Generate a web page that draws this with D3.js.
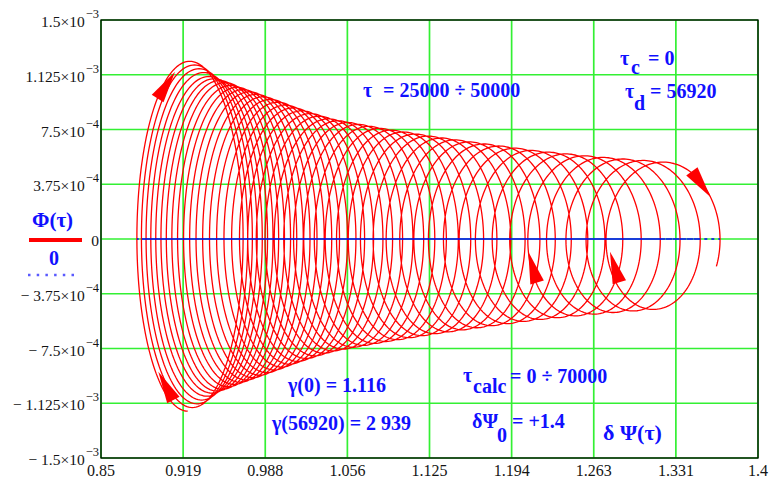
<!DOCTYPE html>
<html>
<head>
<meta charset="utf-8">
<script src="https://cdn.jsdelivr.net/npm/d3@7"></script>
<style>
  body { margin: 0; background: #fff; }
  svg { display: block; }
  text { font-family: "Liberation Serif", "Times New Roman", serif; }
</style>
</head>
<body>
<svg id="chart" width="769" height="483"></svg>
<script>
// ---- axis ticks ----
const xTicks = [0.85, 0.91875, 0.9875, 1.05625, 1.125, 1.19375, 1.2625, 1.33125, 1.4];
const xTickLabels = ["0.85", "0.919", "0.988", "1.056", "1.125", "1.194", "1.263", "1.331", "1.4"];
const yTicks = [1.5e-3, 1.125e-3, 7.5e-4, 3.75e-4, 0, -3.75e-4, -7.5e-4, -1.125e-3, -1.5e-3];
const yTickMantissa = ["1.5×10", "1.125×10", "7.5×10", "3.75×10", "0", "− 3.75×10", "− 7.5×10", "− 1.125×10", "− 1.5×10"];
const yTickExponent = ["−3", "−3", "−4", "−4", "", "−4", "−4", "−3", "−3"];

// ---- trajectory Φ(τ) vs δΨ(τ): one entry per revolution ----
// δΨ at the top of each revolution
const loopCenter = [
  0.9245, 0.9283, 0.9322, 0.9362, 0.9404, 0.9448, 0.9493, 0.9540, 0.9588, 0.9639,
  0.9690, 0.9744, 0.9800, 0.9858, 0.9918, 0.9980, 1.0045, 1.0111, 1.0181, 1.0253,
  1.0327, 1.0405, 1.0485, 1.0568, 1.0654, 1.0743, 1.0835, 1.0931, 1.1030, 1.1133,
  1.1240, 1.1350, 1.1465, 1.1584, 1.1707, 1.1834, 1.1967, 1.2104, 1.2246, 1.2394,
  1.2547, 1.2705, 1.2869, 1.3039, 1.3205
];
// Φ amplitude of each revolution
const loopAmplitude = [
  1.192e-3, 1.167e-3, 1.141e-3, 1.115e-3, 1.088e-3, 1.073e-3, 1.060e-3, 1.047e-3, 1.027e-3, 1.014e-3,
  0.998e-3, 0.983e-3, 0.966e-3, 0.949e-3, 0.931e-3, 0.912e-3, 0.892e-3, 0.873e-3, 0.853e-3, 0.834e-3,
  0.816e-3, 0.798e-3, 0.785e-3, 0.773e-3, 0.760e-3, 0.747e-3, 0.733e-3, 0.721e-3, 0.708e-3, 0.694e-3,
  0.680e-3, 0.667e-3, 0.654e-3, 0.640e-3, 0.626e-3, 0.612e-3, 0.597e-3, 0.582e-3, 0.570e-3, 0.558e-3,
  0.545e-3, 0.534e-3, 0.523e-3, 0.513e-3, 0.502e-3
];
const loopHalfWidth = 0.0435;   // δΨ half-width of a revolution
const phiOffset = 2.5e-5;       // mean level of Φ
const turnStart = -0.5;         // trajectory begins at the bottom of the first revolution
const turnEnd = 44.32;          // and stops just past the right side of the last one

// direction markers along the trajectory: tip [δΨ, Φ] and heading (deg, screen)
const flowArrows = [
  { tip: [0.9120, 1.146e-3], heading: -57 },
  { tip: [0.8980, -0.909e-3], heading: -118 },
  { tip: [1.2077, -0.087e-3], heading: -106 },
  { tip: [1.2761, -0.087e-3], heading: -107 },
  { tip: [1.3604, 0.286e-3], heading: 54 }
];

// ---- layout ----
const plot = { left: 101, right: 758, top: 20, bottom: 458 };
const svg = d3.select("#chart");

const x = d3.scaleLinear().domain([0.85, 1.4]).range([plot.left, plot.right]);
const y = d3.scaleLinear().domain([-1.5e-3, 1.5e-3]).range([plot.bottom, plot.top]);

const gridColor = "#33f033";
const textBlue = "#1010ff";

// grid
const grid = svg.append("g");
grid.selectAll("line.vx").data(xTicks).join("line")
  .attr("x1", d => x(d)).attr("x2", d => x(d))
  .attr("y1", plot.top).attr("y2", plot.bottom)
  .attr("stroke", gridColor).attr("stroke-width", 1.7);
grid.selectAll("line.hy").data(yTicks).join("line")
  .attr("y1", d => y(d)).attr("y2", d => y(d))
  .attr("x1", plot.left).attr("x2", plot.right)
  .attr("stroke", gridColor).attr("stroke-width", 1.7);

// trajectory samples
const centerAt = d3.scaleLinear().domain(d3.range(loopCenter.length)).range(loopCenter);
const ampAt = d3.scaleLinear().domain(d3.range(loopAmplitude.length)).range(loopAmplitude);
const perTurn = 180;
const nSamples = Math.round((turnEnd - turnStart) * perTurn);
const pts = d3.range(nSamples + 1).map(i => {
  const u = turnStart + (turnEnd - turnStart) * i / nSamples;
  const a = 2 * Math.PI * u;
  return [centerAt(u) + loopHalfWidth * Math.sin(a), phiOffset + ampAt(u) * Math.cos(a)];
});

const line = d3.line().x(d => x(d[0])).y(d => y(d[1]));

svg.append("path")
  .attr("d", line(pts))
  .attr("fill", "none")
  .attr("stroke", "#ff0000")
  .attr("stroke-width", 1.3)
  .attr("stroke-linejoin", "round");

// zero trace, dotted, following δΨ(τ)
svg.append("path")
  .attr("d", line(pts.map(p => [p[0], 0])))
  .attr("fill", "none")
  .attr("stroke", "#0000ff")
  .attr("stroke-width", 1.4)
  .attr("stroke-dasharray", "3,4");

// direction markers
const arrowLen = 32, arrowHalf = 7;
svg.append("g").selectAll("path").data(flowArrows).join("path")
  .attr("transform", d => `translate(${x(d.tip[0])},${y(d.tip[1])}) rotate(${d.heading})`)
  .attr("d", `M0,0 L${-arrowLen},${-arrowHalf} L${-arrowLen},${arrowHalf} Z`)
  .attr("fill", "#ff0000");

// frame
svg.append("rect")
  .attr("x", plot.left).attr("y", plot.top)
  .attr("width", plot.right - plot.left).attr("height", plot.bottom - plot.top)
  .attr("fill", "none").attr("stroke", "#000").attr("stroke-width", 1.3);

// x tick labels
svg.append("g").selectAll("text").data(xTicks).join("text")
  .attr("x", d => x(d)).attr("y", 476)
  .attr("text-anchor", "middle")
  .attr("font-size", 16).attr("fill", "#141414")
  .text((d, i) => xTickLabels[i]);

// y tick labels with powers of ten
const yl = svg.append("g").selectAll("text").data(yTicks).join("text")
  .attr("x", 99).attr("y", d => y(d) + 7)
  .attr("text-anchor", "end")
  .attr("font-size", 15.5).attr("fill", "#141414");
yl.append("tspan").text((d, i) => yTickMantissa[i]);
yl.append("tspan")
  .attr("font-size", 12.5).attr("dx", 1).attr("dy", -9)
  .text((d, i) => yTickExponent[i]);

// legend
svg.append("text").attr("x", 32).attr("y", 227)
  .attr("font-size", 21).attr("font-weight", "bold").attr("fill", textBlue).text("Φ(τ)");
svg.append("line").attr("x1", 29).attr("x2", 82).attr("y1", 240).attr("y2", 240)
  .attr("stroke", "#ff0000").attr("stroke-width", 4);
svg.append("text").attr("x", 54).attr("y", 265).attr("text-anchor", "middle")
  .attr("font-size", 20).attr("font-weight", "bold").attr("fill", textBlue).text("0");
svg.append("line").attr("x1", 28).attr("x2", 79).attr("y1", 275).attr("y2", 275)
  .attr("stroke", "#5a5aff").attr("stroke-width", 2.4).attr("stroke-dasharray", "2.5,6.2");

// annotations: each piece placed at its own x / baseline
function note(pieces, size) {
  const g = svg.append("g")
    .attr("font-size", size || 20).attr("font-weight", "bold").attr("fill", textBlue);
  pieces.forEach(p => {
    g.append("text").attr("x", p[0]).attr("y", p[1]).text(p[2]);
  });
}
note([[363, 97, "τ"], [383, 97, "= 25000 ÷ 50000"]]);
note([[620, 65, "τ"], [631, 74, "c"], [648, 65, "= 0"]]);
note([[625, 98, "τ"], [634, 110, "d"], [650, 98, "= 56920"]]);
note([[288, 392, "γ(0) = 1.116"]]);
note([[272, 430, "γ(56920) = 2 939"]]);
note([[463, 382, "τ"], [473, 393, "calc"], [510, 383, "= 0 ÷ 70000"]]);
note([[472, 428, "δΨ"], [497, 442, "0"], [512, 428, "= +1.4"]]);
note([[603, 440, "δ Ψ(τ)"]], 22);
</script>
</body>
</html>
